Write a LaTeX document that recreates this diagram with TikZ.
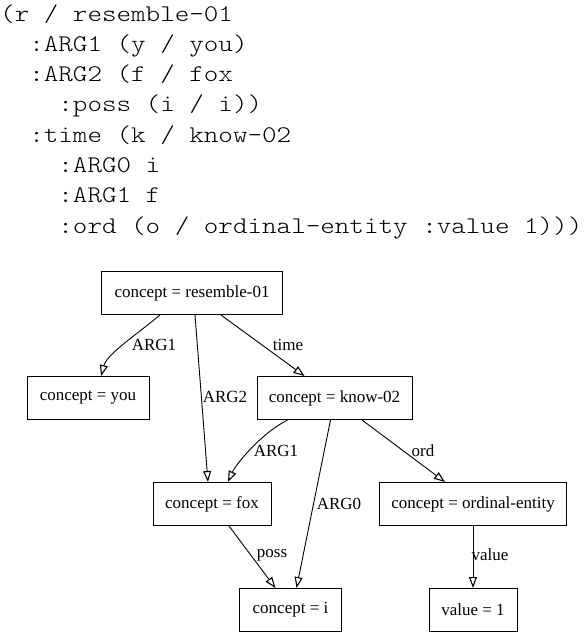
\documentclass[tikz,border=0pt]{standalone}
\usepackage{fontspec}
\setmainfont{Liberation Serif}
\newfontfamily\codefont[FakeStretch=1.16]{lmmonolt10-regular.otf}
\usetikzlibrary{arrows.meta,calc}
\begin{document}
\begin{tikzpicture}[x=1pt,y=-1pt,
  code/.style={anchor=base west,inner sep=0pt,font=\codefont\fontsize{23.9}{30}\selectfont},
  amr/.style={draw,line width=1pt,inner sep=0pt,minimum height=43pt,font=\fontsize{17}{20}\selectfont},
  rel/.style={line width=0.9pt,-{Triangle[open,length=11pt,width=8pt,line width=1.1pt]}},
  lbl/.style={inner sep=0pt,font=\fontsize{17}{20}\selectfont}]
\useasboundingbox (0,0) rectangle (584,632);
% PENMAN text
\node[code] (t1) at (0,21) {(r / resemble-01};
\node[code] (t2) at (29.1,51.3) {:ARG1 (y / you)};
\node[code] (t3) at (29.1,81.6) {:ARG2 (f / fox};
\node[code] (t4) at (58.2,111.9) {:poss (i / i))};
\node[code] (t5) at (29.1,142.2) {:time (k / know-02};
\node[code] (t6) at (58.2,172.5) {:ARG0 i};
\node[code] (t7) at (58.2,202.8) {:ARG1 f};
\node[code] (t8) at (58.2,233.1) {:ord (o / ordinal-entity :value 1)))};
% graph nodes
\node[amr,minimum width=181pt] (r) at (192,293) {concept = resemble-01};
\node[amr,minimum width=122pt] (y) at (88,398) {concept = you};
\node[amr,minimum width=155pt] (k) at (334.5,398) {concept = know-02};
\node[amr,minimum width=118pt] (f) at (212,504) {concept = fox};
\node[amr,minimum width=187pt] (o) at (473,504) {concept = ordinal-entity};
\node[amr,minimum width=102pt] (i) at (290.5,610) {concept = i};
\node[amr,minimum width=88pt] (v) at (473,610) {value = 1};
% edges
\draw[rel] ($(r.south)+(-32,0)$) .. controls ($(r.south)+(-56,20)$) and ($(y.north)+(19,-22)$) .. ($(y.north)+(13,0)$);
\draw[rel] ($(r.south)+(3,0)$) -- ($(f.north)+(-4,0)$);
\draw[rel] ($(r.south)+(29,0)$) -- ($(k.north)+(-30,0)$);
\draw[rel] ($(k.south)+(-47,0)$) .. controls ($(k.south)+(-73,13)$) and ($(f.north)+(24,-18)$) .. ($(f.north)+(16,0)$);
\draw[rel] ($(k.south)+(-4,0)$) -- ($(i.north)+(6,0)$);
\draw[rel] ($(k.south)+(27.5,0)$) -- ($(o.north)+(-28,0)$);
\draw[rel] (o.south) -- (v.north);
\draw[rel] ($(f.south)+(17,0)$) -- ($(i.north)+(-15,0)$);
% edge labels
\node[lbl] (l1) at (154,345) {ARG1};
\node[lbl] (l2) at (225,397) {ARG2};
\node[lbl] (l3) at (288,345) {time};
\node[lbl] (l4) at (276,451) {ARG1};
\node[lbl] (l5) at (339,504) {ARG0};
\node[lbl] (l6) at (423,451) {ord};
\node[lbl] (l7) at (490,555) {value};
\node[lbl] (l8) at (272,555) {poss};
\end{tikzpicture}
\end{document}
